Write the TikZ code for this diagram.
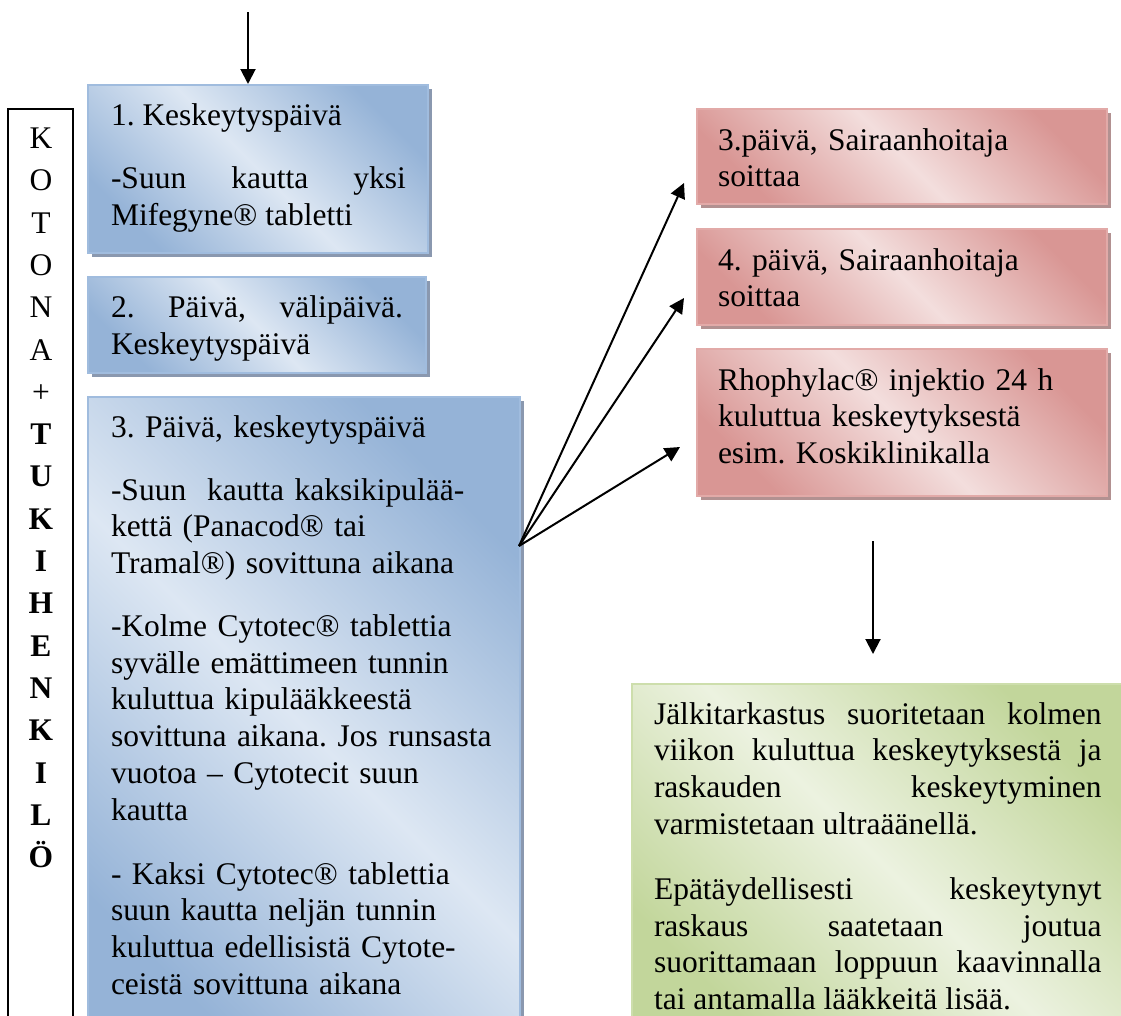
\documentclass[tikz,border=0pt]{standalone}
\usepackage{fontspec}
\setmainfont{Liberation Serif}
\usetikzlibrary{arrows.meta,shadows}
\definecolor{blueD}{RGB}{149,179,215}
\definecolor{blueL}{RGB}{221,231,243}
\definecolor{blueB}{RGB}{160,188,222}
\definecolor{blueS}{RGB}{138,152,175}
\definecolor{redD}{RGB}{217,150,148}
\definecolor{redL}{RGB}{243,222,221}
\definecolor{redB}{RGB}{226,170,168}
\definecolor{redS}{RGB}{178,145,145}
\definecolor{greenD}{RGB}{194,214,155}
\definecolor{greenL}{RGB}{236,242,224}
\definecolor{greenB}{RGB}{205,222,172}
\definecolor{greenS}{RGB}{160,175,130}
\newcommand\bodyfont{\fontsize{31.5}{36.7}\selectfont}
\newcommand\firstln{\rule{0pt}{28pt}}
\frenchspacing
\tikzset{
  box/.style={anchor=north west, inner sep=0pt, outer sep=0pt, line width=2pt},
  bluebox/.style={box, draw=blueB, top color=blueD, bottom color=blueD, middle color=blueL, shading angle=-45,
     general shadow={fill=blueS, shadow xshift=4pt, shadow yshift=-4pt}},
  redbox/.style={box, draw=redB, top color=redD, bottom color=redD, middle color=redL, shading angle=-45,
     general shadow={fill=redS, shadow xshift=4pt, shadow yshift=-4pt}},
  greenbox/.style={box, draw=greenB, top color=greenD, bottom color=greenD, middle color=greenL, shading angle=-45,
     general shadow={fill=greenS, shadow xshift=4pt, shadow yshift=-4pt}},
  para/.style={anchor=north west, inner sep=0pt, outer sep=0pt, font=\bodyfont, text width=#1, align=left},
  jpara/.style={para=#1, align=justify},
  arr/.style={-{Triangle[length=15pt,width=15pt]}, line width=2pt},
}
\begin{document}
\begin{tikzpicture}[x=1pt,y=-1pt]
\useasboundingbox (0,0) rectangle (1121,1015);
\fill[white] (0,0) rectangle (1121,1015);
\clip (0,0) rectangle (1121,1015);
\tolerance=10000 \hbadness=10000
% side frame
\draw[line width=1.3pt] (8,1030) -- (8,109) -- (73,109) -- (73,1030);
\node[para=60pt, align=center, font=\fontsize{31.5}{42.3}\selectfont] (side) at (11,120.5)
  {\firstln K\\O\\T\\O\\N\\A\\+\\\bfseries T\\U\\K\\I\\H\\E\\N\\K\\I\\L\\Ö};
% blue boxes
\node[bluebox, minimum width=340pt, minimum height=168pt] (b1) at (88,85) {};
\node[bluebox, minimum width=338pt, minimum height=96pt] (b2) at (88,277) {};
\node[bluebox, minimum width=432pt, minimum height=660pt] (b3) at (88,397) {};
% red boxes
\node[redbox, minimum width=410pt, minimum height=95pt] (r1) at (697,109) {};
\node[redbox, minimum width=410pt, minimum height=96pt] (r2) at (697,229) {};
\node[redbox, minimum width=410pt, minimum height=147pt] (r3) at (697,349) {};
% green box
\node[greenbox, minimum width=492pt, minimum height=350pt] (g) at (632,684) {};
% texts
\node[jpara=295pt] (t1a) at (111,97.7) {\firstln 1. Keskeytyspäivä};
\node[jpara=295pt] (t1b) at (111,160.3) {\firstln -Suun kautta yksi\linebreak Mifegyne® tabletti};
\node[jpara=292pt] (t2) at (111,289.7) {\firstln 2. Päivä, välipäivä.\linebreak Keskeytyspäivä};
\node[para=400pt] (t3a) at (111,409.7) {\firstln 3. Päivä, keskeytyspäivä};
\node[para=400pt] (t3b) at (111,472) {\firstln -Suun\ \ kautta kaksikipulää-\\kettä (Panacod® tai\\Tramal®) sovittuna aikana};
\node[para=400pt] (t3c) at (111,608.5) {\firstln -Kolme Cytotec® tablettia\\syvälle emättimeen tunnin\\kuluttua kipulääkkeestä\\sovittuna aikana. Jos runsasta\\vuotoa – Cytotecit suun\\kautta};
\node[para=400pt] (t3d) at (111,856) {\firstln - Kaksi Cytotec® tablettia\\suun kautta neljän tunnin\\kuluttua edellisistä Cytote-\\ceistä sovittuna aikana};
\node[para=380pt] (tr1) at (718,122) {\firstln 3.päivä, Sairaanhoitaja\\soittaa};
\node[para=380pt] (tr2) at (718,242) {\firstln 4. päivä, Sairaanhoitaja\\soittaa};
\node[para=380pt] (tr3) at (718,362) {\firstln Rhophylac® injektio 24 h\\kuluttua keskeytyksestä\\esim. Koskiklinikalla};
\node[jpara=447.5pt] (tg1) at (654,696) {\firstln Jälkitarkastus suoritetaan kolmen\linebreak viikon kuluttua keskeytyksestä ja\linebreak raskauden keskeytyminen\linebreak varmistetaan ultraäänellä.};
\node[jpara=447.5pt] (tg2) at (654,871.3) {\firstln Epätäydellisesti keskeytynyt\linebreak raskaus saatetaan joutua\linebreak suorittamaan loppuun kaavinnalla\linebreak tai antamalla lääkkeitä lisää.};
% arrows
\coordinate (top0) at (248,12);
\coordinate (top1) at (248,84);
\draw[arr] (top0) -- (top1);
\coordinate (src) at (519,546);
\coordinate (tipA) at (684,183);
\coordinate (tipB) at (684,298);
\coordinate (tipC) at (680,447);
\draw[arr] (src) -- (tipA);
\draw[arr] (src) -- (tipB);
\draw[arr] (src) -- (tipC);
\coordinate (dn0) at (873,541);
\coordinate (dn1) at (873,654);
\draw[arr] (dn0) -- (dn1);
\end{tikzpicture}
\end{document}
